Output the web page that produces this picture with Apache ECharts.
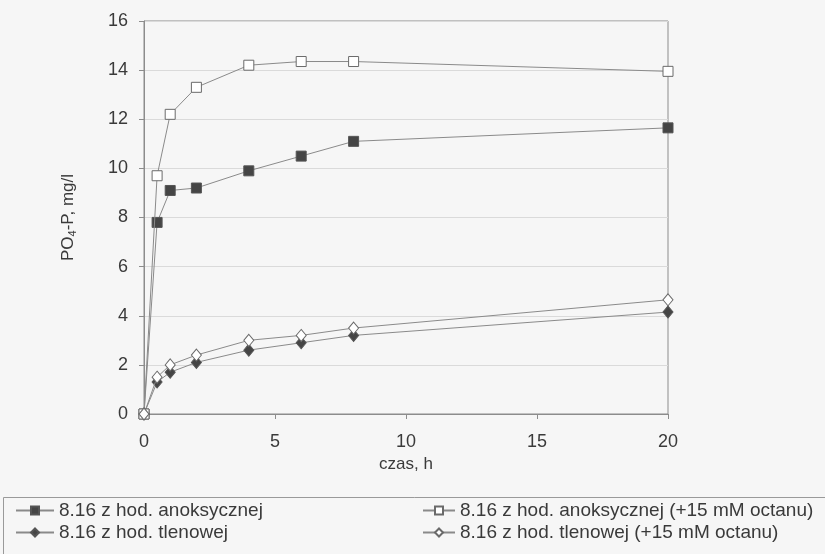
<!DOCTYPE html>
<html>
<head>
<meta charset="utf-8">
<script src="https://cdn.jsdelivr.net/npm/echarts@6/dist/echarts.min.js"></script>
<style>
  html, body { margin: 0; padding: 0; background: #f6f6f6; }
  #chart { width: 825px; height: 554px; }
</style>
</head>
<body>
<div id="chart"></div>
<script>
// czas, h
const hours = [0, 0.5, 1, 2, 4, 6, 8, 20];
// PO4-P, mg/l
const anoks = [0, 7.8, 9.1, 9.2, 9.9, 10.5, 11.1, 11.65];
const anoksOctan = [0, 9.7, 12.2, 13.3, 14.2, 14.35, 14.35, 13.95];
const tlen = [0, 1.3, 1.7, 2.1, 2.6, 2.9, 3.2, 4.15];
const tlenOctan = [0, 1.5, 2.0, 2.4, 3.0, 3.2, 3.5, 4.65];

const NAMES = [
  "8.16 z hod. anoksycznej",
  "8.16 z hod. anoksycznej (+15 mM octanu)",
  "8.16 z hod. tlenowej",
  "8.16 z hod. tlenowej (+15 mM octanu)",
];

const pairs = (ys) => hours.map((h, i) => [h, ys[i]]);
const font = "'Liberation Sans', Arial, sans-serif";
const text = "#3a3a3a";
const line = "#8a8a8a";

function mk(name, ys, symbol, size, filled) {
  return {
    name,
    type: "line",
    data: pairs(ys),
    symbol,
    symbolSize: size,
    showSymbol: true,
    lineStyle: { color: line, width: 1 },
    itemStyle: {
      color: filled ? "#454545" : "#ffffff",
      borderColor: filled ? "#555" : "#6a6a6a",
      borderWidth: 1,
    },
    emphasis: { disabled: true },
    z: filled ? 3 : 4,
  };
}

const chart = echarts.init(document.getElementById("chart"), null, { renderer: "canvas" });
chart.setOption({
  backgroundColor: "#f6f6f6",
  animation: false,
  grid: {
    left: 144, right: 157, top: 21, bottom: 140,
    show: true, borderColor: "#8c8c8c", borderWidth: 1, backgroundColor: "transparent",
  },
  xAxis: {
    type: "value",
    min: 0, max: 20, interval: 5,
    name: "czas, h",
    nameLocation: "middle",
    nameGap: 38,
    nameTextStyle: { fontFamily: font, fontSize: 17, color: text },
    axisLine: { show: true, lineStyle: { color: "#8c8c8c" } },
    axisTick: { show: true, length: 5, lineStyle: { color: "#8c8c8c" } },
    axisLabel: { fontFamily: font, fontSize: 18, color: text, margin: 19 },
    splitLine: { show: false },
  },
  yAxis: {
    type: "value",
    min: 0, max: 16, interval: 2,
    name: "{a|PO}{s|4}{a|-P, mg/l}",
    nameLocation: "middle",
    nameGap: 66,
    nameRotate: 90,
    nameTextStyle: {
      fontFamily: font, fontSize: 17, color: text,
      rich: {
        a: { fontFamily: font, fontSize: 17, color: text },
        s: { fontFamily: font, fontSize: 11, color: text, padding: [8, 0, 0, 0] },
      },
    },
    axisLine: { show: true, lineStyle: { color: "#8c8c8c" } },
    axisTick: { show: true, length: 5, lineStyle: { color: "#8c8c8c" } },
    axisLabel: { fontFamily: font, fontSize: 18, color: text, margin: 16 },
    splitLine: { show: true, lineStyle: { color: "#dadada", width: 1 } },
  },
  legend: [
    {
      data: [NAMES[0], NAMES[2]],
      orient: "vertical",
      left: 10, top: 496,
      itemWidth: 38, itemHeight: 10, itemGap: 3,
      textStyle: { fontFamily: font, fontSize: 19, color: text },
      selectedMode: false,
    },
    {
      data: [NAMES[1], NAMES[3]],
      orient: "vertical",
      left: 417, top: 496,
      itemWidth: 32, itemHeight: 10, itemGap: 3,
      textStyle: { fontFamily: font, fontSize: 19, color: text },
      selectedMode: false,
    },
  ],
  graphic: [
    {
      type: "rect",
      shape: { x: 3.5, y: 497.5, width: 840, height: 80 },
      style: { fill: "transparent", stroke: "#9a9a9a", lineWidth: 1 },
      silent: true,
    },
  ],
  series: [
    mk(NAMES[0], anoks, "rect", 10, true),
    mk(NAMES[1], anoksOctan, "rect", 10, false),
    mk(NAMES[2], tlen, "diamond", [10, 12], true),
    mk(NAMES[3], tlenOctan, "diamond", [10, 12], false),
  ],
});
</script>
</body>
</html>
